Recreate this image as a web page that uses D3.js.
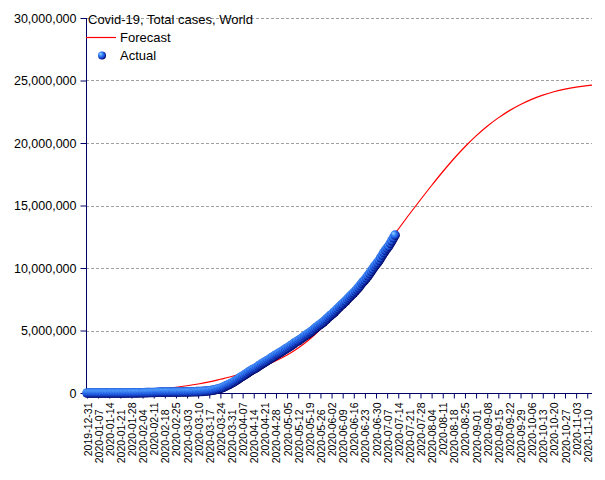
<!DOCTYPE html>
<html>
<head>
<meta charset="utf-8">
<script src="https://cdn.jsdelivr.net/npm/d3@7"></script>
<style>
  html, body { margin: 0; padding: 0; background: #fff; }
  svg { display: block; font-family: "Liberation Sans", Arial, sans-serif; }
</style>
</head>
<body>
<svg id="chart" width="605" height="480"></svg>
<script>
// ---------------- DATA ----------------
const chartTitle = "Covid-19, Total cases, World";
const seriesNames = ["Forecast", "Actual"];

// Actual cumulative cases (thousands), daily from 2019-12-31
const actualStart = "2019-12-31";
const actualThousands = [
  0.027, 0.027, 0.027, 0.027, 0.044, 0.044, 0.059, 0.059, 0.059, 0.059,
  0.059, 0.059, 0.059, 0.059, 0.060, 0.060, 0.061, 0.061, 0.066, 0.083,
  0.219, 0.281, 0.446, 0.585, 0.845, 1.317, 2.015, 2.800, 4.581, 6.058,
  7.813, 9.823, 11.950, 14.553, 17.391, 20.630, 24.545, 28.266, 31.439, 34.876,
  37.552, 40.553, 43.099, 45.134, 59.287, 64.438, 67.100, 69.197, 71.329, 73.332,
  75.184, 75.700, 76.677, 77.673, 78.651, 79.205, 79.823, 80.396, 81.362, 82.753,
  84.122, 86.011, 88.369, 90.306, 92.840, 95.120, 97.886, 101.801, 105.847, 109.821,
  113.590, 118.620, 125.875, 128.352, 145.205, 156.101, 167.454, 181.574, 197.102, 214.821,
  242.570, 272.208, 304.507, 336.953, 378.235, 418.045, 467.653, 529.591, 593.291, 660.706,
  720.117, 782.365, 857.487, 932.605, 1013.157, 1095.917, 1197.405, 1272.115, 1345.048, 1426.096,
  1511.104, 1595.350, 1691.719, 1771.514, 1846.680, 1917.320, 1976.191, 2056.055, 2152.437, 2240.190,
  2317.759, 2401.379, 2472.259, 2549.294, 2624.074, 2708.885, 2790.986, 2881.140, 2954.222, 3041.764,
  3116.398, 3193.886, 3256.846, 3343.777, 3427.343, 3506.729, 3583.055, 3662.691, 3755.341, 3845.718,
  3938.064, 4024.009, 4101.699, 4177.502, 4261.747, 4347.018, 4442.163, 4542.347, 4634.068, 4713.620,
  4801.943, 4897.492, 4996.472, 5102.424, 5210.817, 5310.362, 5407.613, 5495.061, 5589.626, 5691.790,
  5808.946, 5930.999, 6055.580, 6166.946, 6267.633, 6378.002, 6499.283, 6631.059, 6751.140, 6888.318,
  7016.048, 7119.002, 7242.235, 7360.239, 7502.391, 7632.802, 7769.590, 7898.331, 8015.200, 8154.778,
  8294.510, 8434.890, 8594.860, 8774.050, 8908.910, 9051.630, 9211.480, 9379.750, 9559.070, 9740.550,
  9925.240, 10111.330, 10275.510, 10434.050, 10618.060, 10818.990, 11027.920, 11224.660, 11420.200, 11587.690,
  11745.000, 11965.900, 12179.000, 12404.100, 12627.000
];

// Forecast (millions), read at weekly dates (plus the final date)
const forecastDates = [
  "2019-12-31","2020-01-07","2020-01-14","2020-01-21","2020-01-28","2020-02-04","2020-02-11","2020-02-18",
  "2020-02-25","2020-03-03","2020-03-10","2020-03-17","2020-03-24","2020-03-31","2020-04-07","2020-04-14",
  "2020-04-21","2020-04-28","2020-05-05","2020-05-12","2020-05-19","2020-05-26","2020-06-02","2020-06-09",
  "2020-06-16","2020-06-23","2020-06-30","2020-07-07","2020-07-14","2020-07-21","2020-07-28","2020-08-04",
  "2020-08-11","2020-08-18","2020-08-25","2020-09-01","2020-09-08","2020-09-15","2020-09-22","2020-09-29",
  "2020-10-06","2020-10-13","2020-10-20","2020-10-27","2020-11-03","2020-11-10","2020-11-13"
];
const forecastMillions = [
  0.05, 0.07, 0.09, 0.12, 0.16, 0.21, 0.28, 0.36,
  0.46, 0.58, 0.72, 0.89, 1.10, 1.32, 1.57, 1.86,
  2.19, 2.58, 3.04, 3.60, 4.28, 5.10, 6.05, 7.15,
  8.32, 9.50, 10.70, 11.90, 13.10, 14.30, 15.46, 16.60,
  17.70, 18.74, 19.70, 20.57, 21.34, 22.01, 22.59, 23.08,
  23.49, 23.83, 24.10, 24.31, 24.47, 24.59, 24.63
];

// Axis ticks
const xTickLabels = forecastDates.slice(0, 46);
const yTickValues = [0, 5000000, 10000000, 15000000, 20000000, 25000000, 30000000];

// ---------------- CHART ----------------
const parse = d3.timeParse("%Y-%m-%d");
const svg = d3.select("#chart");
const navy = "#000066";

const x = d3.scaleTime()
  .domain([parse("2019-12-31"), parse("2020-11-13")])
  .range([87, 592]);
const y = d3.scaleLinear().domain([0, 30000000]).range([393, 18]);

const actual = actualThousands.map((v, i) => ({
  date: d3.timeDay.offset(parse(actualStart), i),
  value: v * 1000
}));
const forecast = forecastDates.map((d, i) => ({ date: parse(d), value: forecastMillions[i] * 1e6 }));

// gradient for balls
const defs = svg.append("defs");
const grad = defs.append("radialGradient").attr("id", "ball")
  .attr("cx", "42%").attr("cy", "42%").attr("r", "60%").attr("fx", "30%").attr("fy", "28%");
grad.append("stop").attr("offset", "0%").attr("stop-color", "#a8d8ff");
grad.append("stop").attr("offset", "35%").attr("stop-color", "#3f8ffa");
grad.append("stop").attr("offset", "70%").attr("stop-color", "#1a4fd8");
grad.append("stop").attr("offset", "100%").attr("stop-color", "#000060");

// gridlines
svg.append("g").selectAll("line")
  .data(yTickValues.filter(v => v > 0))
  .join("line")
  .attr("x1", 86).attr("x2", 592)
  .attr("y1", d => Math.round(y(d)) + 0.5).attr("y2", d => Math.round(y(d)) + 0.5)
  .attr("stroke", "#a0a0a0").attr("stroke-dasharray", "3,2").attr("stroke-width", 1);

// y axis
const yAxis = d3.axisLeft(y).tickValues(yTickValues).tickSize(6).tickPadding(4)
  .tickFormat(d3.format(","));
const gy = svg.append("g").attr("transform", "translate(86.5,0)").call(yAxis);
gy.select(".domain").attr("stroke", navy).attr("d", `M0,${y(30000000)}V${y(0)}`);
gy.selectAll(".tick line").attr("stroke", navy);
gy.selectAll(".tick text").attr("fill", "#000").style("font-size", "12.5px")
  .style("font-family", '"Liberation Sans", Arial, sans-serif');

// x axis
const xAxis = d3.axisBottom(x).tickValues(xTickLabels.map(parse)).tickSize(5)
  .tickFormat(d3.timeFormat("%Y-%m-%d"));
const gx = svg.append("g").attr("transform", "translate(0,393.5)").call(xAxis);
gx.select(".domain").attr("stroke", navy).attr("d", `M86,0H592`);
gx.selectAll(".tick line").attr("stroke", navy);
gx.selectAll(".tick text")
  .attr("fill", "#000")
  .style("font-size", "10.5px")
  .style("font-family", '"Liberation Sans", Arial, sans-serif')
  .attr("text-anchor", "end")
  .attr("dy", null)
  .attr("y", null)
  .attr("transform", (d, i) => `translate(4,${i % 2 === 0 ? 9 : 16}) rotate(-90)`);

// forecast line
const line = d3.line().x(d => x(d.date)).y(d => y(d.value)).curve(d3.curveMonotoneX);
svg.append("path").datum(forecast)
  .attr("d", line).attr("fill", "none").attr("stroke", "#ff0000").attr("stroke-width", 1.2);

// actual points
svg.append("g").selectAll("circle").data(actual).join("circle")
  .attr("cx", d => x(d.date)).attr("cy", d => y(d.value)).attr("r", 4.8)
  .attr("fill", "url(#ball)");

// legend
svg.append("text").attr("x", 88).attr("y", 24).text(chartTitle)
  .style("font-size", "13px").attr("fill", "#000");
svg.append("line").attr("x1", 86).attr("x2", 116).attr("y1", 37.5).attr("y2", 37.5)
  .attr("stroke", "#ff0000").attr("stroke-width", 1.2);
svg.append("text").attr("x", 120).attr("y", 42).text(seriesNames[0])
  .style("font-size", "13px").attr("fill", "#000");
svg.append("circle").attr("cx", 102).attr("cy", 55.5).attr("r", 4).attr("fill", "url(#ball)");
svg.append("text").attr("x", 120).attr("y", 60).text(seriesNames[1])
  .style("font-size", "13px").attr("fill", "#000");
</script>
</body>
</html>
